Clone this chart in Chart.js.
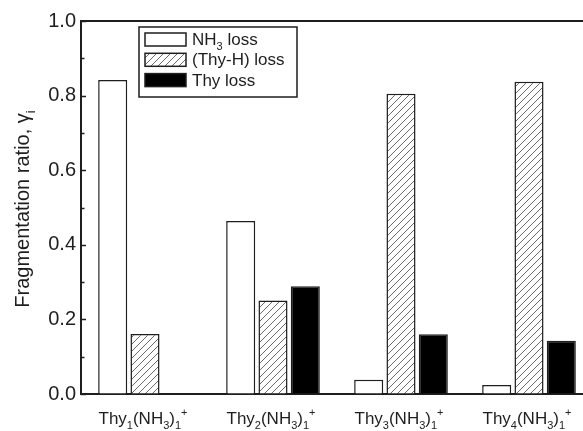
<!DOCTYPE html>
<html>
<head>
<meta charset="utf-8">
<script src="https://cdn.jsdelivr.net/npm/chart.js@4.4.1/dist/chart.umd.min.js"></script>
<style>
  html, body { margin: 0; padding: 0; background: #fff; overflow: hidden; }
  #wrap { width: 583px; height: 431px; overflow: hidden; }
</style>
</head>
<body>
<div id="wrap"><canvas id="chart" width="600" height="431"></canvas></div>
<script>
// labels use _x for subscript and ^x for superscript
const categories = ["Thy_1(NH_3)_1^+", "Thy_2(NH_3)_1^+", "Thy_3(NH_3)_1^+", "Thy_4(NH_3)_1^+"];
const seriesNames = ["NH_3 loss", "(Thy-H) loss", "Thy loss"];
const nh3Loss = [0.842, 0.464, 0.038, 0.024];
const thyHLoss = [0.161, 0.251, 0.805, 0.837];
const thyLoss = [null, 0.289, 0.160, 0.143];
const yTicks = [0, 0.1, 0.2, 0.3, 0.4, 0.5, 0.6, 0.7, 0.8, 0.9, 1.0];

const FONT = "'Liberation Sans', Arial, sans-serif";
const INK = "#1e1e1e";

function hatch() {
  const s = 7;
  const c = document.createElement("canvas");
  c.width = s;
  c.height = s;
  const g = c.getContext("2d");
  g.fillStyle = "#fff";
  g.fillRect(0, 0, s, s);
  g.strokeStyle = "#6a6a6a";
  g.lineWidth = 1;
  g.beginPath();
  g.moveTo(0, s); g.lineTo(s, 0);
  g.moveTo(-1, 1); g.lineTo(1, -1);
  g.moveTo(s - 1, s + 1); g.lineTo(s + 1, s - 1);
  g.stroke();
  return g.createPattern(c, "repeat");
}
const hatchFill = hatch();

// draw text with _sub and ^sup markup, returns width
function richText(ctx, str, x, y, size, measureOnly) {
  let w = 0;
  const small = Math.round(size * 0.65);
  let i = 0;
  while (i < str.length) {
    let ch = str[i];
    let off = 0;
    let fs = size;
    if ((ch === "_" || ch === "^") && i + 1 < str.length) {
      fs = small;
      off = ch === "_" ? size * 0.3 : -size * 0.5;
      ch = str[i + 1];
      i += 2;
    } else {
      i += 1;
    }
    ctx.font = fs + "px " + FONT;
    if (!measureOnly) ctx.fillText(ch, x + w, y + off);
    w += ctx.measureText(ch).width;
  }
  return w;
}

const decor = {
  id: "decor",
  afterDraw(chart) {
    const ctx = chart.ctx;
    const a = chart.chartArea;
    const y = chart.scales.y;
    const x = chart.scales.x;
    ctx.save();
    ctx.strokeStyle = INK;
    // top frame line
    ctx.lineWidth = 2;
    ctx.beginPath();
    ctx.moveTo(a.left - 1, a.top);
    ctx.lineTo(chart.width, a.top);
    ctx.stroke();
    // inward ticks
    ctx.lineWidth = 1.5;
    yTicks.forEach((v, k) => {
      const py = Math.round(y.getPixelForValue(v)) + 0.5;
      const len = k % 2 === 0 ? 5 : 3.5;
      ctx.beginPath();
      ctx.moveTo(a.left, py);
      ctx.lineTo(a.left + len, py);
      ctx.stroke();
    });
    // x labels
    ctx.fillStyle = INK;
    ctx.textBaseline = "alphabetic";
    ctx.textAlign = "left";
    categories.forEach((c, k) => {
      const cx = x.getPixelForValue(k);
      const w = richText(ctx, c, 0, 0, 17, true);
      richText(ctx, c, cx - w / 2 - 2, 424, 17, false);
    });
    // y title
    ctx.save();
    ctx.translate(29, 209);
    ctx.rotate(-Math.PI / 2);
    const title = "Fragmentation ratio, \u03b3_i";
    const tw = richText(ctx, title, 0, 0, 20, true);
    richText(ctx, title, -tw / 2, 0, 20, false);
    ctx.restore();
    // legend
    const lx = 139, ly = 27, lw = 158, lh = 70;
    ctx.fillStyle = "#fff";
    ctx.fillRect(lx, ly, lw, lh);
    ctx.lineWidth = 1.5;
    ctx.strokeRect(lx, ly, lw, lh);
    chart.data.datasets.forEach((ds, k) => {
      const ry = 33 + k * 20.3;
      ctx.fillStyle = ds.backgroundColor;
      ctx.fillRect(145, ry, 41, 13);
      ctx.lineWidth = 1.5;
      ctx.strokeStyle = INK;
      ctx.strokeRect(145, ry, 41, 13);
      ctx.fillStyle = INK;
      richText(ctx, seriesNames[k], 192, ry + 12, 17, false);
    });
    ctx.restore();
  }
};

new Chart(document.getElementById("chart"), {
  type: "bar",
  data: {
    labels: categories,
    datasets: [
      { label: seriesNames[0], data: nh3Loss, backgroundColor: "#ffffff" },
      { label: seriesNames[1], data: thyHLoss, backgroundColor: hatchFill },
      { label: seriesNames[2], data: thyLoss, backgroundColor: "#000000" }
    ].map((d) => Object.assign(d, {
      borderColor: INK,
      borderWidth: 1.5,
      categoryPercentage: 0.757,
      barPercentage: 0.9
    }))
  },
  options: {
    responsive: false,
    animation: false,
    devicePixelRatio: 1,
    layout: { padding: { top: 21, right: 7, left: 0, bottom: 0 } },
    plugins: { legend: { display: false }, tooltip: { enabled: false } },
    scales: {
      x: {
        grid: { display: false },
        border: { display: true, color: INK, width: 2 },
        ticks: { display: false },
        afterFit: (s) => { s.height = 37; }
      },
      y: {
        min: 0,
        max: 1,
        afterBuildTicks: (s) => { s.ticks = yTicks.map((v) => ({ value: v })); },
        ticks: {
          padding: 5,
          color: INK,
          font: { family: FONT, size: 20 },
          callback: (v, k) => (k % 2 === 0 ? Number(v).toFixed(1) : "")
        },
        grid: { drawOnChartArea: false, drawTicks: false },
        border: { display: true, color: INK, width: 2 },
        afterFit: (s) => { s.width = 81; }
      }
    }
  },
  plugins: [decor]
});
</script>
</body>
</html>
